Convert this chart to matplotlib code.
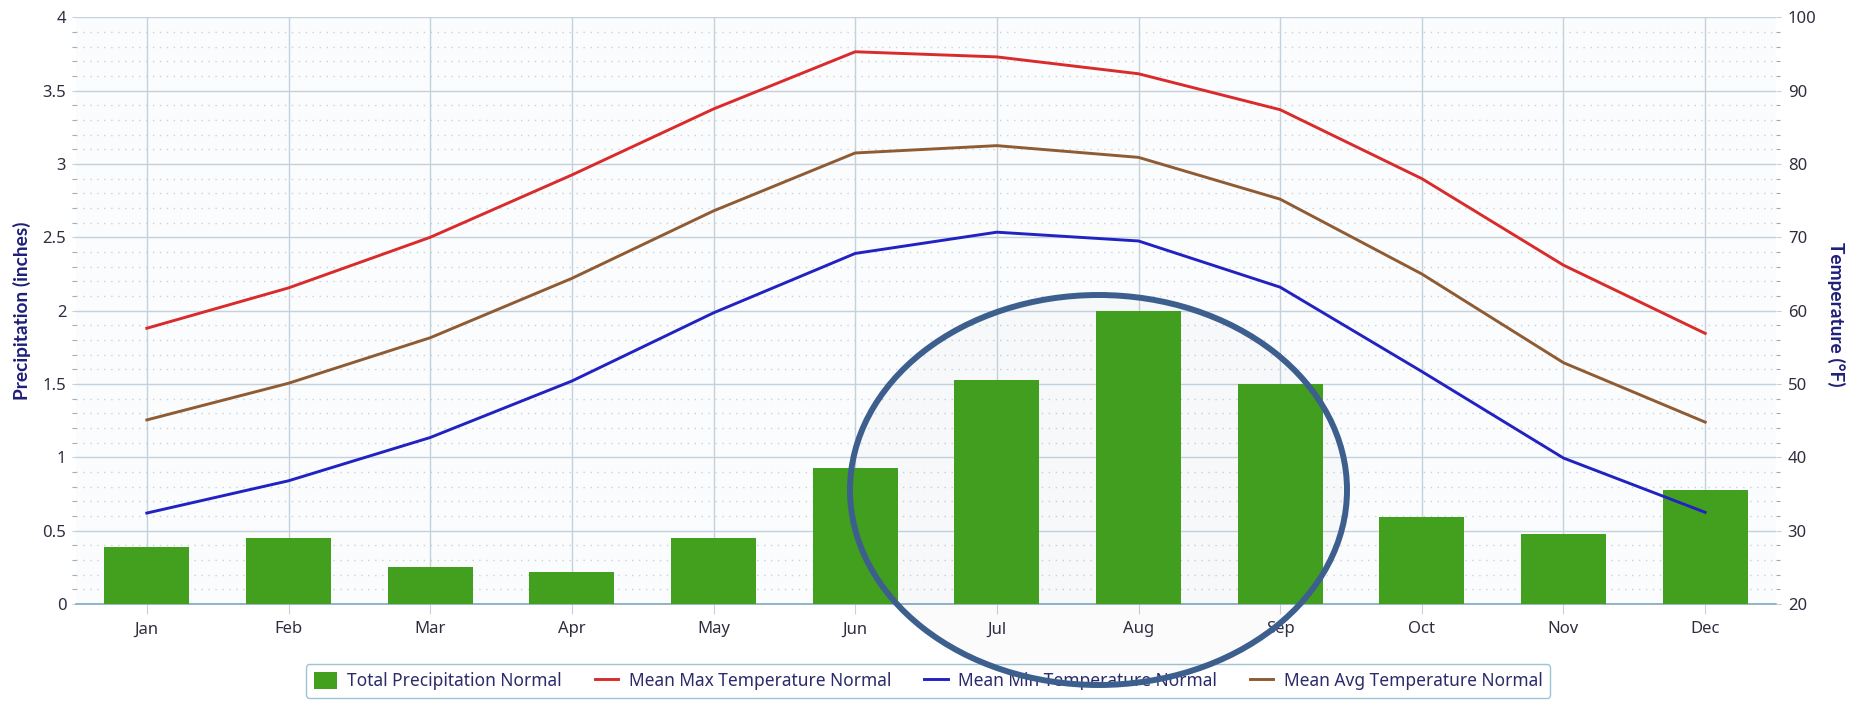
import matplotlib
matplotlib.use("Agg")
import matplotlib.pyplot as plt
from matplotlib.ticker import MultipleLocator
from matplotlib.patches import Ellipse
from matplotlib import font_manager
import numpy as np

months = ["Jan", "Feb", "Mar", "Apr", "May", "Jun", "Jul", "Aug", "Sep", "Oct", "Nov", "Dec"]
precip = [0.39, 0.45, 0.25, 0.22, 0.45, 0.93, 1.53, 2.00, 1.50, 0.59, 0.48, 0.78]
temp_max = [57.6, 63.1, 70.0, 78.5, 87.5, 95.3, 94.6, 92.3, 87.4, 78.0, 66.2, 56.9]
temp_min = [32.4, 36.8, 42.7, 50.4, 59.7, 67.8, 70.7, 69.5, 63.2, 51.7, 39.9, 32.5]
temp_avg = [45.1, 50.1, 56.3, 64.4, 73.6, 81.5, 82.5, 80.9, 75.2, 65.0, 52.9, 44.8]

W, H = 1862, 702
DPI = 100
plt.rcParams['font.family'] = ['Noto Sans', 'DejaVu Sans']

bold_fams = {f.name for f in font_manager.fontManager.ttflist
             if (f.weight in ("bold", 700) or (isinstance(f.weight, int) and f.weight >= 700))}
if "Lato" in bold_fams:
    lab_family, lab_size = ["Lato"], 13.8
elif "Liberation Sans Narrow" in bold_fams:
    lab_family, lab_size = ["Liberation Sans Narrow"], 17
else:
    lab_family, lab_size = ["DejaVu Sans"], 10.5

fig = plt.figure(figsize=(W / DPI, H / DPI), dpi=DPI)
L, R, T, B = 76, 1776, 17.3, 604
ax = fig.add_axes([L / W, 1 - B / H, (R - L) / W, (B - T) / H])
ax2 = ax.twinx()

grid_c = "#c3d2dc"
minor_c = "#c9d1d9"
tick_lbl_c = "#2e2e40"
navy = "#1f1f78"

x = np.arange(len(months))
ax.set_facecolor("#fbfcfd")
ax.bar(x, precip, width=0.6, color="#43a01e", zorder=3, label="Total Precipitation Normal")
ax.set_xlim(-0.5, 11.5)
ax.set_ylim(0, 4)
ax.yaxis.set_minor_locator(MultipleLocator(0.1))
ax.set_yticks([0, 0.5, 1, 1.5, 2, 2.5, 3, 3.5, 4])
ax.set_yticklabels(["0", "0.5", "1", "1.5", "2", "2.5", "3", "3.5", "4"])
ax.set_xticks(x)
ax.set_xticklabels(months)
ax.grid(True, which="major", axis="both", color=grid_c, linewidth=1, zorder=0)
ax.grid(True, which="minor", axis="y", color=minor_c, linewidth=1, linestyle=(0, (1, 4)), zorder=0)
ax.set_axisbelow(True)

for s in ["top", "left", "right"]:
    ax.spines[s].set_visible(False)
    ax2.spines[s].set_visible(False)
ax.spines["bottom"].set_color("#7fa9bf")
ax.spines["bottom"].set_linewidth(1.2)
ax2.spines["bottom"].set_visible(False)

ax.tick_params(axis="x", length=7.5, width=0.8, color=grid_c, pad=5, labelsize=12, labelcolor=tick_lbl_c)
ax.tick_params(axis="y", which="major", length=3, width=0.8, color=grid_c, pad=4, labelsize=12, labelcolor=tick_lbl_c)
ax.tick_params(axis="y", which="minor", length=3, width=0.8, color="#a0a8b0")

ax2.plot(x, temp_max, color="#d92b2b", linewidth=2.1, zorder=5, label="Mean Max Temperature Normal")
ax2.plot(x, temp_min, color="#2222c2", linewidth=2.1, zorder=5, label="Mean Min Temperature Normal")
ax2.plot(x, temp_avg, color="#8f5b33", linewidth=2.1, zorder=5, label="Mean Avg Temperature Normal")
ax2.set_ylim(20, 100)
ax2.set_yticks([20, 30, 40, 50, 60, 70, 80, 90, 100])
ax2.yaxis.set_minor_locator(MultipleLocator(2))
ax2.tick_params(axis="y", which="major", length=3.5, width=0.8, color=grid_c, pad=5, labelsize=12, labelcolor=tick_lbl_c)
ax2.tick_params(axis="y", which="minor", length=3, width=0.8, color="#a0a8b0")
ax2.set_zorder(ax.get_zorder() + 1)
ax2.patch.set_visible(False)

fig.text(21.5 / W, 1 - 311 / H, "Precipitation (inches)", rotation=90, ha="center", va="center",
         fontsize=lab_size, fontweight="bold", color=navy, family=lab_family)
fig.text(1836 / W, 1 - 314 / H, "Temperature (°F)", rotation=-90, ha="center", va="center",
         fontsize=lab_size, fontweight="bold", color=navy, family=lab_family)

h1, l1 = ax.get_legend_handles_labels()
h2, l2 = ax2.get_legend_handles_labels()
leg = fig.legend(h1 + h2, l1 + l2, loc="center", bbox_to_anchor=(928 / W, 1 - 681 / H), ncol=4,
                 fontsize=12.5, frameon=True, fancybox=True, handlelength=1.35, handleheight=1.1,
                 handletextpad=0.6, columnspacing=1.9, borderpad=0.45)
for t in leg.get_texts():
    t.set_color("#2b2b6b")
fr = leg.get_frame()
fr.set_edgecolor("#9cc4d4")
fr.set_linewidth(1)
fr.set_facecolor("white")
fr.set_alpha(1)

ell = Ellipse((1098.5 / W, 1 - 490 / H), 497 / W, 390 / H, transform=fig.transFigure,
              facecolor=(0.2, 0.3, 0.45, 0.018), edgecolor="#3d5f8e", linewidth=4.3, zorder=10)
fig.add_artist(ell)

fig.savefig("out.png", dpi=DPI)
